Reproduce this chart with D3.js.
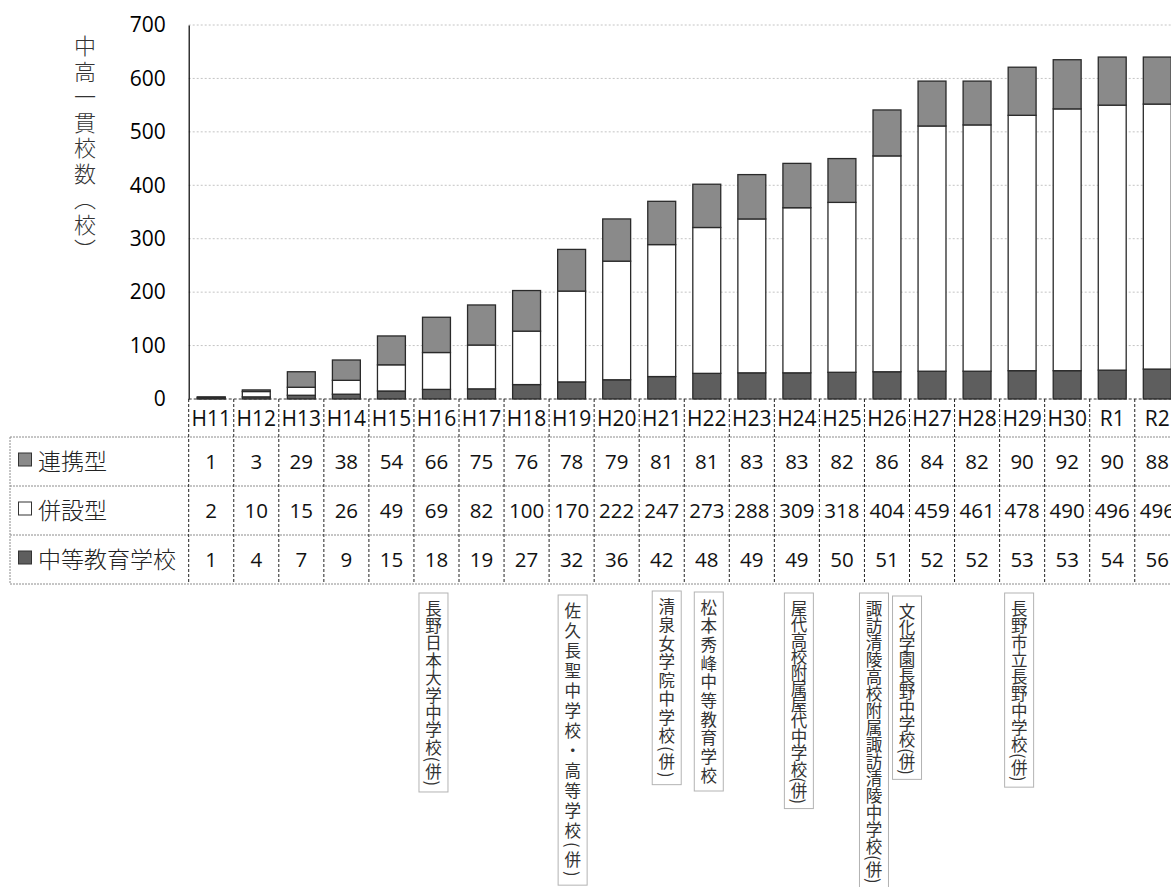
<!DOCTYPE html>
<html>
<head>
<meta charset="utf-8">
<script src="https://cdn.jsdelivr.net/npm/d3@7"></script>
<style>
  body { margin: 0; background: #fff; overflow: hidden; }
  svg { display: block; }
</style>
</head>
<body>
<div id="chart"></div>
<script>

// data
var years = ["H11","H12","H13","H14","H15","H16","H17","H18","H19","H20","H21",
             "H22","H23","H24","H25","H26","H27","H28","H29","H30","R1","R2"];
var renkei   = [1,3,29,38,54,66,75,76,78,79,81,81,83,83,82,86,84,82,90,92,90,88];
var heisetsu = [2,10,15,26,49,69,82,100,170,222,247,273,288,309,318,404,459,461,478,490,496,496];
var chuto    = [1,4,7,9,15,18,19,27,32,36,42,48,49,49,50,51,52,52,53,53,54,56];
var seriesNames = ["連携型", "併設型", "中等教育学校"];
var yTicks = [0,100,200,300,400,500,600,700];

var annoYears  = ["H16","H19","H21","H22","H24","H26","H27","H29"];
var annoLabels = ["長野日本大学中学校(併)", "佐久長聖中学校・高等学校(併)", "清泉女学院中学校(併)",
                  "松本秀峰中等教育学校", "屋代高校附属屋代中学校(併)",
                  "諏訪清陵高校附属諏訪清陵中学校(併)", "文化学園長野中学校(併)", "長野市立長野中学校(併)"];

var titleText = "全国の中高一貫教育校数の推移（各年度）";
var yTitle = "中高一貫校数（校）";

// table the stack needs
var rows = years.map(function(y, i) {
	return {year: y, chuto: chuto[i], heisetsu: heisetsu[i], renkei: renkei[i]};
});

var width = 1171, height = 887;
var numFont = "'Open Sans', 'Noto Sans', sans-serif";
var jpFont = "'Noto Sans CJK JP', 'Noto Sans', sans-serif";

var svg = d3.select("#chart").append("svg")
	.attr("width", width)
	.attr("height", height);

// plot area
var plot = {left: 188.7, top: 25, bottom: 399};
var colW = 45.05;
var plotRight = plot.left + colW * years.length;

var yScale = d3.scaleLinear().domain([0, 700]).range([plot.bottom, plot.top]);

var colScale = d3.scaleBand().domain(years).range([plot.left, plotRight]).padding(0);
var xScale = d3.scaleBand().domain(years).range([plot.left, plotRight])
	.paddingInner(0.38).paddingOuter(0.19);

// title (cut by the top edge in the reference)
svg.append("text")
	.attr("x", 688).attr("y", -3)
	.attr("text-anchor", "middle")
	.style("font-family", jpFont).style("font-size", "26px")
	.attr("fill", "#222")
	.text(titleText);

// gridlines
svg.append("g").selectAll("line")
	.data(yTicks.filter(function(d) { return d > 0; }))
	.enter().append("line")
	.attr("x1", plot.left).attr("x2", plotRight)
	.attr("y1", function(d) { return yScale(d); })
	.attr("y2", function(d) { return yScale(d); })
	.attr("stroke", "#c4c4c4").attr("stroke-width", 1)
	.attr("stroke-dasharray", "2,2");

// y axis
var yAxis = svg.append("g")
	.attr("transform", "translate(" + plot.left + ",0)")
	.call(d3.axisLeft(yScale).tickValues(yTicks).tickSize(0).tickSizeOuter(0).tickPadding(23));
yAxis.select(".domain").attr("stroke", "#000").attr("stroke-width", 1.2);
yAxis.selectAll("text")
	.style("font-family", numFont).style("font-size", "21px")
	.attr("fill", "#000");

// y title, vertical
svg.append("text")
	.attr("x", 85).attr("y", 35)
	.style("writing-mode", "vertical-rl")
	.style("font-family", jpFont).style("font-size", "22px")
	.style("font-weight", 300)
	.style("letter-spacing", "3.5px")
	.attr("fill", "#333")
	.text(yTitle);

// stacked bars
var stack = d3.stack().keys(["chuto", "heisetsu", "renkei"]);
var fills = {chuto: "#5e5e5e", heisetsu: "#ffffff", renkei: "#8a8a8a"};

svg.append("g").selectAll("g")
	.data(stack(rows))
	.enter().append("g")
	.attr("fill", function(s) { return fills[s.key]; })
	.selectAll("rect")
	.data(function(s) { return s; })
	.enter().append("rect")
	.attr("x", function(d) { return xScale(d.data.year); })
	.attr("width", xScale.bandwidth())
	.attr("y", function(d) { return yScale(d[1]); })
	.attr("height", function(d) { return yScale(d[0]) - yScale(d[1]); })
	.attr("stroke", "#2a2a2a").attr("stroke-width", 1.3);

// data table
var tbl = {head: 399, r0: 437, rowH: 49, left: 10};
var tableRows = [renkei, heisetsu, chuto];
var tableBottom = tbl.r0 + tbl.rowH * 3;
var grid = svg.append("g");

// horizontal rules
grid.append("line")
	.attr("x1", plot.left).attr("x2", plotRight)
	.attr("y1", tbl.head).attr("y2", tbl.head)
	.attr("stroke", "#333").attr("stroke-width", 1).attr("stroke-dasharray", "3,2");
[0, 1, 2, 3].forEach(function(k) {
	grid.append("line")
		.attr("x1", tbl.left).attr("x2", plotRight)
		.attr("y1", tbl.r0 + k * tbl.rowH).attr("y2", tbl.r0 + k * tbl.rowH)
		.attr("stroke", "#8c8c8c").attr("stroke-width", 1).attr("stroke-dasharray", "2,1");
});
grid.append("line")
	.attr("x1", tbl.left).attr("x2", tbl.left)
	.attr("y1", tbl.r0).attr("y2", tableBottom)
	.attr("stroke", "#8c8c8c").attr("stroke-dasharray", "2,1");

// column separators
grid.selectAll("line.col")
	.data(years)
	.enter().append("line")
	.attr("class", "col")
	.attr("x1", function(d) { return colScale(d); })
	.attr("x2", function(d) { return colScale(d); })
	.attr("y1", tbl.head).attr("y2", tableBottom)
	.attr("stroke", "#222").attr("stroke-width", 1).attr("stroke-dasharray", "3,2");

// header labels
svg.append("g").selectAll("text")
	.data(years)
	.enter().append("text")
	.attr("x", function(d) { return colScale(d) + colScale.bandwidth() / 2; })
	.attr("y", (tbl.head + tbl.r0) / 2)
	.attr("dy", "0.36em")
	.attr("text-anchor", "middle")
	.style("font-family", numFont).style("font-size", "21px")
	.attr("fill", "#111")
	.text(function(d) { return d; });

// row labels with legend keys
var keyFill = ["#8a8a8a", "#ffffff", "#5e5e5e"];
seriesNames.forEach(function(name, k) {
	var cy = tbl.r0 + tbl.rowH * k + tbl.rowH / 2;
	svg.append("rect")
		.attr("x", 18.5).attr("y", cy - 8.5)
		.attr("width", 13).attr("height", 13)
		.attr("fill", keyFill[k]).attr("stroke", "#333").attr("stroke-width", 1);
	svg.append("text")
		.attr("x", 38).attr("y", cy).attr("dy", "0.36em")
		.style("font-family", jpFont).style("font-size", "23px")
		.style("font-weight", 300)
		.attr("fill", "#222")
		.text(name);

	svg.append("g").selectAll("text")
		.data(tableRows[k])
		.enter().append("text")
		.attr("x", function(d, i) { return colScale(years[i]) + colScale.bandwidth() / 2; })
		.attr("y", cy).attr("dy", "0.36em")
		.attr("text-anchor", "middle")
		.style("font-family", numFont).style("font-size", "20.5px")
		.attr("fill", "#111")
		.text(function(d) { return d; });
});

// vertical school notes under the table
var noteTune = {
	H16: {dx: -3, top: 593, ls: 0.9},
	H19: {dx: 1,  top: 595, ls: 3.5},
	H21: {dx: 5,  top: 591, ls: 2},
	H22: {dx: 2,  top: 592, ls: 2.2},
	H24: {dx: 2,  top: 593, ls: -0.4},
	H26: {dx: -13, top: 593, ls: 0.5},
	H27: {dx: -25, top: 596, ls: -0.4},
	H29: {dx: -3, top: 593, ls: 0.5}
};

var notes = svg.append("g");
annoYears.forEach(function(yr, i) {
	var t = noteTune[yr];
	var cx = colScale(yr) + colScale.bandwidth() / 2 + t.dx;
	var g = notes.append("g");
	var box = g.append("rect");
	var txt = g.append("text")
		.attr("x", cx).attr("y", t.top + 7)
		.style("writing-mode", "vertical-rl")
		.style("font-family", jpFont).style("font-size", "16.5px")
		.style("letter-spacing", t.ls + "px")
		.attr("fill", "#333")
		.text(annoLabels[i]);
	var bb = txt.node().getBBox();
	// keep the glyph column centred on cx
	txt.attr("x", cx - (bb.x + bb.width / 2 - cx));
	bb = txt.node().getBBox();
	box.attr("x", cx - 14.5).attr("width", 29)
		.attr("y", t.top).attr("height", bb.y + bb.height - t.top + 5)
		.attr("fill", "#fff").attr("stroke", "#b3b3b3").attr("stroke-width", 1);
});

</script>
</body>
</html>
